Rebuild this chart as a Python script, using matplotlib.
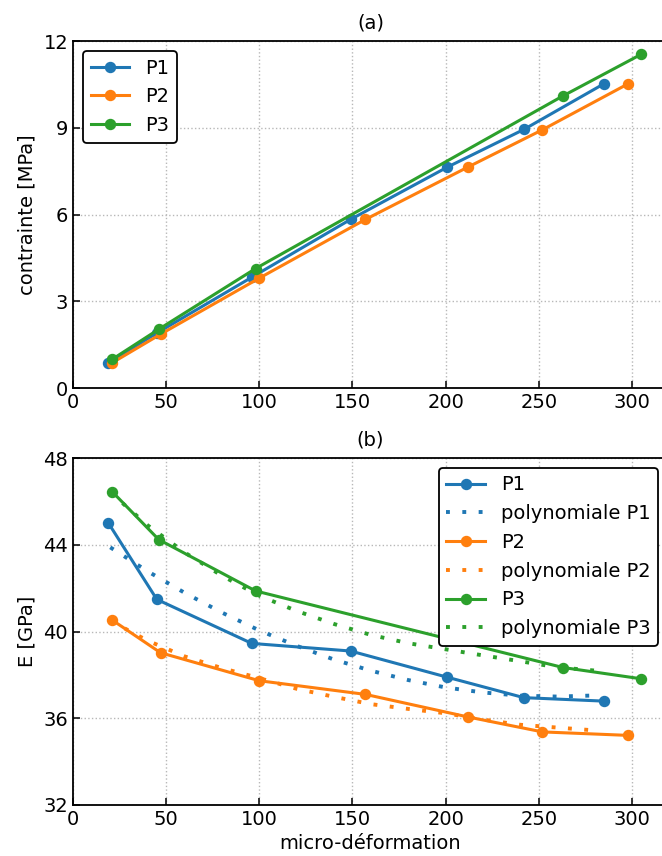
import matplotlib
matplotlib.use("Agg")
import matplotlib.pyplot as plt

# ---- data ----
p1_x = [19, 45, 96, 149, 201, 242, 285]
p2_x = [21, 47, 100, 157, 212, 252, 298]
p3_x = [21, 46, 98, 263, 305]

p1_stress = [0.87, 1.90, 3.83, 5.83, 7.64, 8.94, 10.52]
p2_stress = [0.87, 1.86, 3.80, 5.83, 7.64, 8.93, 10.52]
p3_stress = [0.99, 2.03, 4.13, 10.10, 11.54]

p1_E = [45.00, 41.48, 39.45, 39.10, 37.89, 36.95, 36.79]
p2_E = [40.53, 39.02, 37.73, 37.10, 36.06, 35.37, 35.21]
p3_E = [46.45, 44.24, 41.87, 38.34, 37.82]

poly_x = [20, 40, 60, 80, 100, 120, 140, 160, 180, 200, 220, 240, 260, 280]
poly_p1 = [43.88, 42.78, 41.78, 40.87, 40.05, 39.34, 38.71, 38.19, 37.76, 37.42, 37.19, 37.04, 37.00, 37.05]
poly_p2 = [40.50, 39.58, 38.85, 38.31, 37.85, 37.36, 36.99, 36.65, 36.43, 36.23, 35.94, 35.70, 35.57, 35.44]
poly_p3 = [46.42, 44.90, 43.64, 42.57, 41.65, 40.95, 40.35, 39.84, 39.46, 39.18, 38.90, 38.63, 38.35, 38.20]

x_ticks = [0, 50, 100, 150, 200, 250, 300]
top_yticks = [0, 3, 6, 9, 12]
bot_yticks = [32, 36, 40, 44, 48]

C1, C2, C3 = "#1f77b4", "#ff7f0e", "#2ca02c"

plt.rcParams["font.family"] = ["DejaVu Sans"]
FS = 14
W, H = 662, 856
fig = plt.figure(figsize=(W / 100, H / 100), dpi=100)

def axrect(l, t, r, b):
    return [l / W, 1 - b / H, (r - l) / W, (b - t) / H]

# axes extend slightly past the right edge of the picture, as in the reference
ax1 = fig.add_axes(axrect(73, 41, 668, 388))
ax2 = fig.add_axes(axrect(73, 458, 668, 805))

lw = 2.2
ms = 7.2
dot_kw = dict(lw=2.8, dashes=(1, 3.2))

ax1.plot(p1_x, p1_stress, "-o", color=C1, lw=lw, ms=ms, label="P1")
ax1.plot(p2_x, p2_stress, "-o", color=C2, lw=lw, ms=ms, label="P2")
ax1.plot(p3_x, p3_stress, "-o", color=C3, lw=lw, ms=ms, label="P3")

ax2.plot(p1_x, p1_E, "-o", color=C1, lw=lw, ms=ms, label="P1")
ax2.plot(poly_x, poly_p1, color=C1, label="polynomiale P1", **dot_kw)
ax2.plot(p2_x, p2_E, "-o", color=C2, lw=lw, ms=ms, label="P2")
ax2.plot(poly_x, poly_p2, color=C2, label="polynomiale P2", **dot_kw)
ax2.plot(p3_x, p3_E, "-o", color=C3, lw=lw, ms=ms, label="P3")
ax2.plot(poly_x, poly_p3, color=C3, label="polynomiale P3", **dot_kw)

for ax in (ax1, ax2):
    ax.set_xlim(0, 319.4)
    ax.set_xticks(x_ticks)
    ax.tick_params(direction="in", labelsize=FS, length=5, width=1.1)
    ax.grid(True, linestyle=":", color="#b8b8b8", lw=1.0)
    for s in ax.spines.values():
        s.set_linewidth(1.3)

ax1.set_ylim(0, 12)
ax1.set_yticks(top_yticks)
ax2.set_ylim(32, 48)
ax2.set_yticks(bot_yticks)

ax1.set_title("(a)", fontsize=FS, pad=9)
ax2.set_title("(b)", fontsize=FS, pad=9)
ax1.set_ylabel("contrainte [MPa]", fontsize=FS, labelpad=5)
ax2.set_ylabel("E [GPa]", fontsize=FS, labelpad=5)
ax2.set_xlabel("micro-déformation", fontsize=FS, labelpad=4)

for ax, loc in ((ax1, "upper left"), (ax2, "upper right")):
    leg = ax.legend(loc=loc, fontsize=FS, frameon=True, fancybox=True,
                    framealpha=1.0, edgecolor="black", borderaxespad=0.5)
    leg.get_frame().set_linewidth(1.3)

fig.savefig("out.png", dpi=100)
